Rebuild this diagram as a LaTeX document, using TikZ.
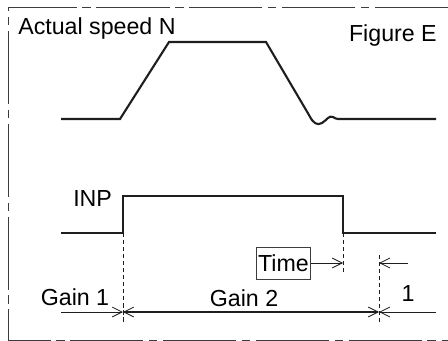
\documentclass[tikz,border=0pt]{standalone}
\usepackage{fontspec}
\setmainfont{Liberation Sans}
\usepackage{tikz}
\usetikzlibrary{arrows.meta,positioning,calc}
\definecolor{wavegray}{RGB}{30,30,30}
\definecolor{framegray}{RGB}{60,60,60}

\begin{document}
\begin{tikzpicture}[
  x=0.025cm, y=-0.025cm,
  every node/.style={font=\fontsize{16.5}{19}\selectfont, inner sep=0pt},
  wave/.style={draw=wavegray, line width=1.5pt, line join=miter},
  frameline/.style={draw=framegray, line width=0.7pt, dash pattern=on 52pt off 4pt on 6pt off 4pt},
  guide/.style={draw=wavegray, line width=0.6pt, dash pattern=on 3pt off 2pt},
  dimthin/.style={draw=wavegray, line width=0.6pt, -{Straight Barb[length=7pt,width=7pt,line width=0.6pt]}},
  dimthick/.style={draw=wavegray, line width=1.1pt, {Straight Barb[length=7pt,width=7pt,line width=0.6pt]}-{Straight Barb[length=7pt,width=7pt,line width=0.6pt]}},
]
\useasboundingbox (0,0) rectangle (448,341);

% Frame (open on the right)
\draw[frameline] (448,7) -- (8,7) -- (8,340) -- (448,340);

% Labels
\node[anchor=base west] (speedlbl) at (18,35) {Actual speed N};
\node[anchor=base east] (figlbl) at (437,42) {Figure E};
\node[anchor=base west] (inplbl) at (73,206) {INP};

% Actual speed waveform
\draw[wave] (61,119) -- (120,119) -- (169,42) -- (266,42) -- (309,115)
  .. controls (313,123) and (317,126) .. (322,123)
  .. controls (327,120) and (329,115) .. (333,117)
  .. controls (335,118) and (336,119) .. (338,119) -- (436,119);

% INP waveform
\draw[wave] (61,233) -- (123,233) -- (123,196) -- (343,196) -- (343,233) -- (436,233);

% Key points
\coordinate (inpon)  at (123,233);
\coordinate (inpoff) at (343,233);
\coordinate (gstart) at (61,312);
\coordinate (gone)   at (123,312);
\coordinate (gtwo)   at (379,312);
\coordinate (gend)   at (436,312);
\coordinate (toff)   at (343,263);
\coordinate (tmark)  at (379,263);
\coordinate (tend)   at (408,263);

% Guide lines
\draw[guide] (inpon) -- ($(gone)+(0,10)$);
\draw[guide] (inpoff) -- ($(toff)+(0,9)$);
\draw[guide] ($(tmark)+(0,-8)$) -- ($(gtwo)+(0,10)$);

% Time
\node[draw=framegray, line width=0.7pt, inner xsep=1pt, inner ysep=2pt,
      minimum height=32*0.025cm] (timebox) at (283.5,263) {Time};
\draw[dimthin] (timebox.east) -- (toff);
\draw[dimthin] (tend) -- (tmark);

% Gains
\draw[dimthin] (gstart) -- (gone);
\draw[dimthick] (gone) -- (gtwo);
\draw[dimthin] (gend) -- (gtwo);
\node[anchor=base] (gain1) at (75,305) {Gain 1};
\node[anchor=base] (gain2) at (244,306) {Gain 2};
\node[anchor=base] (one) at (408,301) {1};
\end{tikzpicture}
\end{document}
